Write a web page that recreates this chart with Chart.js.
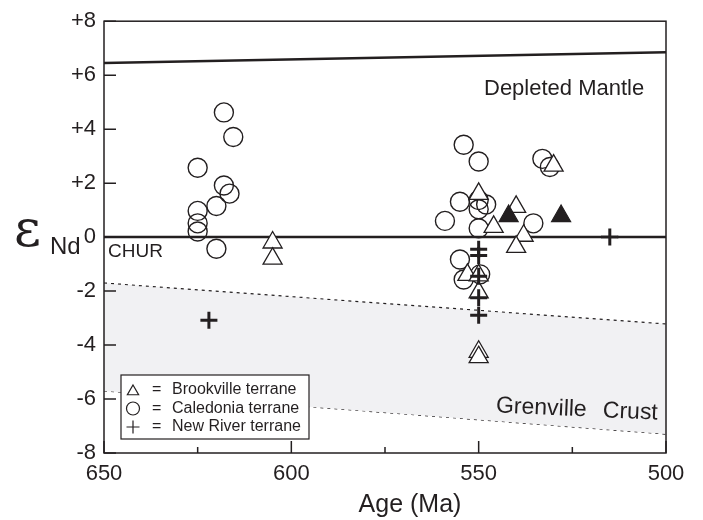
<!doctype html>
<html lang="en">
  <head>
    <meta charset="utf-8">
    <title>eNd vs Age</title>
    <style>
      * { margin: 0; padding: 0; }
      body { background: #fff; }
    </style>
  </head>
  <body>
    <canvas id="myChart" width="703" height="520"></canvas>
    <script src="https://cdn.jsdelivr.net/npm/chart.js/dist/chart.umd.min.js"></script>
    <script>
    // data
    const xTicks = [650, 600, 550, 500];
    const xMinor = [625, 575, 525];
    const yTicks = [-8, -6, -4, -2, 0, 2, 4, 6, 8];

    const caledoniaAge = [618, 615.5, 625, 618, 616.5, 620, 625, 625, 625, 620,
                          554, 550, 550, 548, 555, 550, 559, 550, 533, 531, 535.4, 555, 554, 549.6];
    const caledoniaEps = [4.62, 3.71, 2.57, 1.91, 1.61, 1.15, 0.97, 0.51, 0.21, -0.43,
                          3.42, 2.80, 1.37, 1.21, 1.31, 1.03, 0.60, 0.33, 2.9, 2.6, 0.51, -0.83, -1.57, -1.38];

    const brookAge = [605, 605, 550, 546, 540, 530, 538, 540, 553, 550, 550, 550, 550];
    const brookEps = [-0.2, -0.8, 1.6, 0.38, 1.12, 2.65, 0.05, -0.36, -1.4, -1.42, -2.05, -4.25, -4.45];

    const brookFilledAge = [542, 528];
    const brookFilledEps = [0.78, 0.78];

    const newRiverAge = [550, 550, 550, 550, 550, 515, 622];
    const newRiverEps = [-0.45, -0.68, -1.45, -2.25, -2.9, 0, -3.08];

    const mantleAge = [650, 500];
    const mantleEps = [6.45, 6.85];
    const churEps = [0, 0];
    const crustTopEps = [-1.7, -3.22];
    const crustBotEps = [-5.7, -7.3];

    const pts = (xs, ys) => xs.map((x, i) => ({x: x, y: ys[i]}));

    // tick marks inward, frame, extra text, legend
    const decor = {
      id: 'decor',
      afterDraw(chart) {
        const {ctx, chartArea: {left, right, top, bottom}, scales: {x, y}} = chart;
        ctx.save();
        ctx.strokeStyle = '#231f20';
        ctx.lineWidth = 1.5;
        ctx.strokeRect(left, top, right - left, bottom - top);
        ctx.beginPath();
        yTicks.forEach(v => {
          const py = y.getPixelForValue(v);
          ctx.moveTo(left, py); ctx.lineTo(left + 12, py);
        });
        xTicks.forEach(v => {
          const px = x.getPixelForValue(v);
          ctx.moveTo(px, bottom); ctx.lineTo(px, bottom - 12);
        });
        xMinor.forEach(v => {
          const px = x.getPixelForValue(v);
          ctx.moveTo(px, bottom); ctx.lineTo(px, bottom - 6);
        });
        ctx.stroke();

        ctx.fillStyle = '#231f20';
        ctx.textBaseline = 'middle';
        ctx.textAlign = 'left';
        ctx.font = '19px "Liberation Sans", Arial, sans-serif';
        ctx.fillText('CHUR', 108, 252);
        ctx.font = '22px "Liberation Sans", Arial, sans-serif';
        ctx.fillText('Depleted Mantle', 484, 89);
        ctx.save();
        ctx.translate(496, 406);
        ctx.rotate(0.045);
        ctx.font = '23px "Liberation Sans", Arial, sans-serif';
        ctx.fillText('Grenville', 0, 0);
        ctx.fillText('Crust', 107, 0);
        ctx.restore();

        // axis titles
        ctx.font = '25px "Liberation Sans", Arial, sans-serif';
        ctx.textAlign = 'center';
        ctx.fillText('Age (Ma)', 410, 505);
        ctx.textAlign = 'left';
        ctx.font = '52px "DejaVu Serif", serif';
        ctx.fillText('\u03B5', 14, 232);
        ctx.font = '24px "Liberation Sans", Arial, sans-serif';
        ctx.fillText('Nd', 50, 247);

        // legend box
        ctx.fillStyle = '#fff';
        ctx.fillRect(121, 375, 188, 64);
        ctx.lineWidth = 1.2;
        ctx.strokeRect(121, 375, 188, 64);
        const rows = [['triangle', 'Brookville terrane'], ['circle', 'Caledonia terrane'], ['cross', 'New River terrane']];
        rows.forEach((r, i) => {
          const cy = 390 + i * 18.5;
          ctx.strokeStyle = '#231f20';
          ctx.fillStyle = 'rgba(0,0,0,0)';
          ctx.lineWidth = 1.2;
          Chart.helpers.drawPoint(ctx, {pointStyle: r[0], radius: 6.5, borderWidth: 1.2}, 133, cy + (r[0] === 'triangle' ? 1.5 : 0));
          ctx.fillStyle = '#231f20';
          ctx.font = '16px "Liberation Sans", Arial, sans-serif';
          ctx.fillText('=', 152, cy);
          ctx.fillText(r[1], 172, cy);
        });
        ctx.restore();
      }
    };

    const data = {
      datasets: [
        {
          label: 'New River terrane',
          data: pts(newRiverAge, newRiverEps),
          pointStyle: 'cross', pointRadius: 8.5, borderWidth: 3,
          borderColor: '#231f20', order: 1
        },
        {
          label: 'Brookville filled',
          data: pts(brookFilledAge, brookFilledEps),
          pointStyle: 'triangle', pointRadius: 11, borderWidth: 1.2,
          borderColor: '#231f20', backgroundColor: '#231f20', order: 2
        },
        {
          label: 'Brookville terrane',
          data: pts(brookAge, brookEps),
          pointStyle: 'triangle', pointRadius: 11, borderWidth: 1.3,
          borderColor: '#231f20', backgroundColor: '#fff', order: 3
        },
        {
          label: 'Caledonia terrane',
          data: pts(caledoniaAge, caledoniaEps),
          pointStyle: 'circle', pointRadius: 9.5, borderWidth: 1.4,
          borderColor: '#231f20', backgroundColor: 'rgba(255,255,255,0)', order: 4
        },
        {
          label: 'halo',
          data: pts([515], [0]),
          pointStyle: 'rect', pointRadius: 11, borderWidth: 0,
          backgroundColor: '#fff', order: 5
        },
        {
          label: 'Depleted Mantle',
          type: 'line',
          data: pts(mantleAge, mantleEps),
          borderColor: '#231f20', borderWidth: 2.5, pointRadius: 0, order: 6
        },
        {
          label: 'CHUR',
          type: 'line',
          data: pts(mantleAge, churEps),
          borderColor: '#231f20', borderWidth: 2.5, pointRadius: 0, order: 6
        },
        {
          label: 'crust top',
          type: 'line',
          data: pts(mantleAge, crustTopEps),
          borderColor: '#231f20', borderWidth: 1.2, borderDash: [3, 4],
          pointRadius: 0, fill: '+1', backgroundColor: '#f1f1f3', order: 7
        },
        {
          label: 'crust bottom',
          type: 'line',
          data: pts(mantleAge, crustBotEps),
          borderColor: '#231f20', borderWidth: 1.2, borderDash: [3, 4],
          pointRadius: 0, order: 7
        }
      ]
    };

    const config = {
      type: 'scatter',
      data,
      options: {
        responsive: false,
        animation: false,
        layout: {padding: {left: 0, top: 17, right: 37, bottom: 0}},
        plugins: {legend: {display: false}, tooltip: {enabled: false}},
        scales: {
          x: {
            type: 'linear', min: 500, max: 650, reverse: true,
            afterFit: s => { s.height = 67; },
            afterBuildTicks: s => { s.ticks = xTicks.map(v => ({value: v})); },
            grid: {display: false, drawTicks: false},
            border: {display: false},
            ticks: {color: '#231f20', padding: 8, font: {size: 22, family: '"Liberation Sans", Arial, sans-serif'}}
          },
          y: {
            min: -8, max: 8,
            afterFit: s => { s.width = 104; },
            afterBuildTicks: s => { s.ticks = yTicks.map(v => ({value: v})); },
            grid: {display: false, drawTicks: false},
            border: {display: false},
            ticks: {
              color: '#231f20', padding: 8,
              font: {size: 22, family: '"Liberation Sans", Arial, sans-serif'},
              callback: v => v > 0 ? '+' + v : '' + v
            }
          }
        }
      },
      plugins: [decor]
    };

    const myChart = new Chart(document.getElementById('myChart'), config);
    </script>
  </body>
</html>
